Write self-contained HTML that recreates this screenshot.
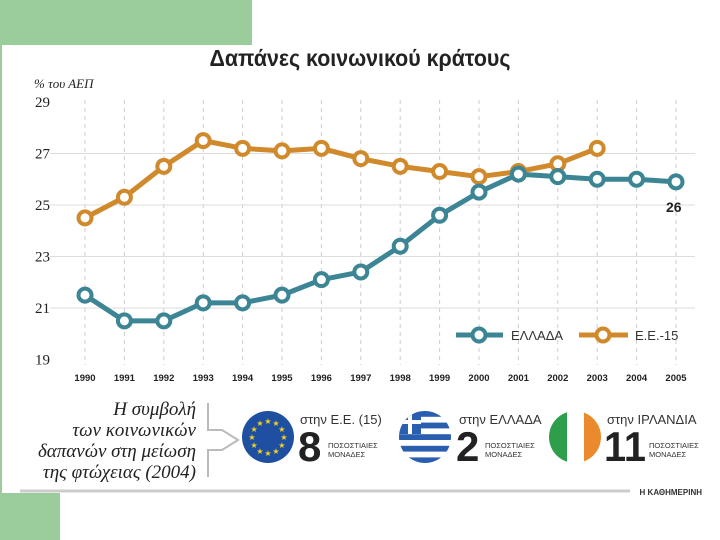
<!DOCTYPE html>
<html><head><meta charset="utf-8"><style>
body{margin:0;width:720px;height:540px;background:#fff;overflow:hidden;position:relative;font-family:"Liberation Sans","DejaVu Sans",sans-serif}
</style></head><body>
<div style="position:absolute;left:0;top:0;width:252px;height:45px;background:#9bcc9b"></div>
<div style="position:absolute;left:0;top:493px;width:60px;height:47px;background:#9bcc9b"></div>
<div style="position:absolute;left:0;top:45px;width:2px;height:448px;background:#9bcc9b"></div>
<svg id="chart" width="720" height="540" style="position:absolute;left:0;top:0">
<text x="360" y="66" text-anchor="middle" font-size="23" font-weight="bold" fill="#222" font-family="Liberation Sans,DejaVu Sans,sans-serif" transform="translate(360,0) scale(0.93,1) translate(-360,0)">Δαπάνες κοινωνικού κράτους</text>
<text x="34" y="88" font-size="13" font-style="italic" fill="#222" font-family="Liberation Serif,serif">% του ΑΕΠ</text>
<g id="grid"></g><g id="yt"></g><g id="xt"></g><g id="series"></g>
<g>
<line x1="456" y1="335" x2="503" y2="335" stroke="#3b8594" stroke-width="5"/>
<circle cx="479" cy="335" r="6.5" fill="#fff" stroke="#3b8594" stroke-width="4"/>
<text x="511" y="340" font-size="13" fill="#333">ΕΛΛΑΔΑ</text>
<line x1="579" y1="335" x2="628" y2="335" stroke="#d08a2c" stroke-width="5"/>
<circle cx="603" cy="335" r="6.5" fill="#fff" stroke="#d08a2c" stroke-width="4"/>
<text x="635" y="340" font-size="13" fill="#333">Ε.Ε.-15</text>
</g>
<text x="666" y="212" font-size="14" font-weight="bold" fill="#222">26</text>
<g font-family="Liberation Serif,serif" font-style="italic" font-size="19" fill="#222" text-anchor="end">
<text x="196" y="415">Η συμβολή</text><text x="196" y="436">των κοινωνικών</text><text x="196" y="457">δαπανών στη μείωση</text><text x="196" y="478">της φτώχειας (2004)</text>
</g>
<path d="M208,403 V430 H222 L238,440 L222,450 H208 V477" fill="none" stroke="#bbb" stroke-width="2"/>
<g><circle cx="268" cy="437" r="26" fill="#1f4fa0"/><g id="stars"></g></g>
<g><clipPath id="gc"><circle cx="425" cy="437" r="26"/></clipPath>
<g clip-path="url(#gc)"><rect x="399" y="411" width="52" height="52" fill="#fff"/><g id="gstripes"></g><rect x="399" y="411" width="22" height="23" fill="#2a5fb0"/><rect x="408" y="411" width="4" height="23" fill="#fff"/><rect x="399" y="420" width="22" height="4" fill="#fff"/></g></g>
<g><clipPath id="ic"><circle cx="575" cy="437" r="26"/></clipPath>
<g clip-path="url(#ic)"><rect x="549" y="411" width="18" height="52" fill="#2e9e4a"/><rect x="567" y="411" width="17" height="52" fill="#fff"/><rect x="584" y="411" width="17" height="52" fill="#ea8a2c"/></g></g>
<g font-size="13" fill="#333">
<text x="300" y="424">στην Ε.Ε. (15)</text><text x="459" y="424">στην ΕΛΛΑΔΑ</text><text x="607" y="424">στην ΙΡΛΑΝΔΙΑ</text></g>
<g font-weight="bold" font-size="42" fill="#222"><text x="298" y="461">8</text><text x="456" y="461">2</text><text x="604" y="461" textLength="42" lengthAdjust="spacingAndGlyphs">11</text></g>
<g font-size="7.5" fill="#333"><text x="328" y="448">ΠΟΣΟΣΤΙΑΙΕΣ</text><text x="328" y="457">ΜΟΝΑΔΕΣ</text><text x="485" y="448">ΠΟΣΟΣΤΙΑΙΕΣ</text><text x="485" y="457">ΜΟΝΑΔΕΣ</text><text x="649" y="448">ΠΟΣΟΣΤΙΑΙΕΣ</text><text x="649" y="457">ΜΟΝΑΔΕΣ</text></g>
<line x1="20" y1="491" x2="630" y2="491" stroke="#ccc" stroke-width="3"/>
<text x="702" y="495" text-anchor="end" font-size="8" font-weight="bold" fill="#333">Η ΚΑΘΗΜΕΡΙΝΗ</text>
</svg>
<script>
const years=[1990,1991,1992,1993,1994,1995,1996,1997,1998,1999,2000,2001,2002,2003,2004,2005];
const greece=[21.5,20.5,20.5,21.2,21.2,21.5,22.1,22.4,23.4,24.6,25.5,26.2,26.1,26.0,26.0,25.9];
const eu15=[24.5,25.3,26.5,27.5,27.2,27.1,27.2,26.8,26.5,26.3,26.1,26.3,26.6,27.2];
const yTicks=[19,21,23,25,27,29];
const NS="http://www.w3.org/2000/svg";
const x=i=>85+i*39.4, y=v=>102+(29-v)*25.75;
function mk(t,a,p){const e=document.createElementNS(NS,t);for(const k in a)e.setAttribute(k,a[k]);p.appendChild(e);return e;}
const grid=document.getElementById('grid'),yt=document.getElementById('yt'),xt=document.getElementById('xt'),ser=document.getElementById('series');
years.forEach((yr,i)=>{
 const l=mk('line',{x1:x(i),x2:x(i),y1:100,y2:365,stroke:'#ccc','stroke-dasharray':'4,4','stroke-width':1},grid);
 
 
 const t=mk('text',{x:x(i),y:381,'text-anchor':'middle','font-size':9.5,'font-weight':'bold',fill:'#222'},xt);t.textContent=yr;
 
 
});
yTicks.forEach(v=>{
 if(v>19&&v<29){const l=mk('line',{x1:50,x2:695,y1:y(v),y2:y(v),stroke:'#ddd','stroke-width':1},grid);
 
 }
 const t=mk('text',{x:35,y:y(v)+5,'font-size':15,fill:'#222','font-family':'Liberation Serif,serif'},yt);t.textContent=v;
 
 
});
function draw(data,col,name){
 const g=mk('g',{},ser);
 
 
 mk('polyline',{points:data.map((v,i)=>x(i)+','+y(v)).join(' '),fill:'none',stroke:col,'stroke-width':5,'stroke-linejoin':'round'},g);
 data.forEach((v,i)=>{const c=mk('circle',{cx:x(i),cy:y(v),r:6.5,fill:'#fff',stroke:col,'stroke-width':4},g);
 
 });
}
draw(eu15,'#d08a2c','eu15-series');
draw(greece,'#3b8594','greece-series');
const st=document.getElementById('stars');
for(let k=0;k<12;k++){const a=k*Math.PI/6;const t=mk('text',{x:268+16*Math.cos(a),y:437+16*Math.sin(a)+3,'text-anchor':'middle','font-size':8,fill:'#f5d020'},st);t.textContent='★';}
const gs=document.getElementById('gstripes');
for(let k=0;k<9;k+=2){mk('rect',{x:399,y:411+k*5.8,width:52,height:5.8,fill:'#2a5fb0'},gs);}
</script>
</body></html>
